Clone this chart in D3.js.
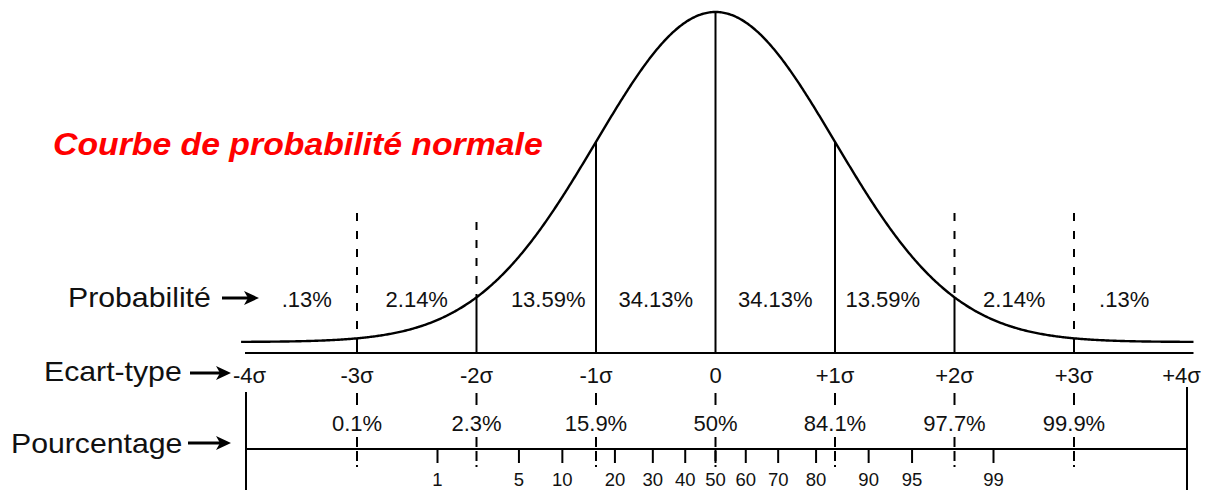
<!DOCTYPE html>
<html>
<head>
<meta charset="utf-8">
<script src="https://cdn.jsdelivr.net/npm/d3@7"></script>
<style>
  html, body { margin: 0; padding: 0; background: #fff; }
  svg { display: block; }
  text { font-family: "Liberation Sans", Arial, sans-serif; fill: #111; }
</style>
</head>
<body>
<svg id="chart" width="1207" height="490"></svg>
<script>
// Standard deviation marks along the z axis
const sigmaTicks  = [-4, -3, -2, -1, 0, 1, 2, 3, 4];
const sigmaLabels = ["-4σ", "-3σ", "-2σ", "-1σ", "0", "+1σ", "+2σ", "+3σ", "+4σ"];

// Probability mass in each one-sigma band
const bandLower  = [-4, -3, -2, -1, 0, 1, 2, 3];
const bandUpper  = [-3, -2, -1, 0, 1, 2, 3, 4];
const bandLabels = [".13%", "2.14%", "13.59%", "34.13%", "34.13%", "13.59%", "2.14%", ".13%"];

// Cumulative percentage reached at each sigma
const cumSigma  = [-3, -2, -1, 0, 1, 2, 3];
const cumLabels = ["0.1%", "2.3%", "15.9%", "50%", "84.1%", "97.7%", "99.9%"];

// Percentile ranks on the lower scale
const percentiles = [1, 5, 10, 20, 30, 40, 50, 60, 70, 80, 90, 95, 99];

// Sigma lines drawn solid up to the curve, and the ones continued dashed above it
const solidSigma  = [-3, -2, -1, 0, 1, 2, 3];
const dashedSigma = [-3, -2, 2, 3];

const svg = d3.select("#chart");

const x = d3.scaleLinear().domain([-3, 3]).range([357, 1074]);
const pdf = z => Math.exp(-z * z / 2) / Math.sqrt(2 * Math.PI);
const y = d3.scaleLinear().domain([0, pdf(0)]).range([342, 12]);

// inverse of the normal CDF (Acklam), to place percentile ranks on the z scale
function probit(p) {
  const a = [-3.969683028665376e+01, 2.209460984245205e+02, -2.759285104469687e+02, 1.383577518672690e+02, -3.066479806614716e+01, 2.506628277459239e+00];
  const b = [-5.447609879822406e+01, 1.615858368580409e+02, -1.556989798598866e+02, 6.680131188771972e+01, -1.328068155288572e+01];
  const c = [-7.784894002430293e-03, -3.223964580411365e-01, -2.400758277161838e+00, -2.549732753666818e+00, 4.374664141464968e+00, 2.938163982698783e+00];
  const d = [7.784695709041462e-03, 3.224671290700398e-01, 2.445134137142996e+00, 3.754408661907416e+00];
  const plow = 0.02425;
  let q, r;
  if (p < plow) {
    q = Math.sqrt(-2 * Math.log(p));
    return (((((c[0]*q+c[1])*q+c[2])*q+c[3])*q+c[4])*q+c[5]) / ((((d[0]*q+d[1])*q+d[2])*q+d[3])*q+1);
  } else if (p <= 1 - plow) {
    q = p - 0.5; r = q * q;
    return (((((a[0]*r+a[1])*r+a[2])*r+a[3])*r+a[4])*r+a[5])*q / (((((b[0]*r+b[1])*r+b[2])*r+b[3])*r+b[4])*r+1);
  }
  q = Math.sqrt(-2 * Math.log(1 - p));
  return -(((((c[0]*q+c[1])*q+c[2])*q+c[3])*q+c[4])*q+c[5]) / ((((d[0]*q+d[1])*q+d[2])*q+d[3])*q+1);
}

const axisY = 353;
const pctAxisY = 449;
const stretch = 1.09;
// the outer frame of the percentile scale sits slightly inside ±4σ
const frameLeft = x(-4) + 8.5;
const frameRight = x(4) - 6.5;

// ---- upper part: bell curve ----
const curvePts = d3.range(-3.97, 4.005, 0.01);
svg.append("path")
  .datum(curvePts)
  .attr("d", d3.line().x(z => x(z)).y(z => y(pdf(z))))
  .attr("fill", "none").attr("stroke", "#000").attr("stroke-width", 2.4);

// z axis line
svg.append("line")
  .attr("x1", frameLeft - 1).attr("x2", x(4)).attr("y1", axisY).attr("y2", axisY)
  .attr("stroke", "#000").attr("stroke-width", 2);

// solid sigma lines, axis to curve
svg.selectAll(".sigSolid").data(solidSigma).join("line")
  .attr("x1", d => x(d)).attr("x2", d => x(d))
  .attr("y1", axisY).attr("y2", d => y(pdf(d)))
  .attr("stroke", "#000").attr("stroke-width", 2);

// dashed continuation above the curve
svg.selectAll(".sigDash").data(dashedSigma).join("line")
  .attr("x1", d => x(d)).attr("x2", d => x(d))
  .attr("y1", d => d === -2 ? 222 : 213).attr("y2", d => y(pdf(d)))
  .attr("stroke", "#000").attr("stroke-width", 2)
  .attr("stroke-dasharray", "8,10");

// band probabilities: centred in their band, nudged inward where the band
// borders a curve crossing or the outer tail
function bandLabelX(i) {
  const mid = (bandLower[i] + bandUpper[i]) / 2;
  const a = Math.abs(mid);
  const nudge = a === 1.5 ? 0.1 : a === 3.5 ? 0.08 : 0;
  return x(mid - Math.sign(mid) * nudge);
}
svg.selectAll(".band").data(bandLabels).join("text")
  .attr("x", (d, i) => bandLabelX(i))
  .attr("y", 299).attr("dy", "0.35em")
  .attr("text-anchor", "middle").attr("font-size", 22)
  .text(d => d);

// sigma labels
svg.selectAll(".sigLab").data(sigmaLabels).join("text")
  .attr("x", (d, i) => x(sigmaTicks[i]) + (i === 0 ? 12 : i === 8 ? -12 : 0))
  .attr("y", 375).attr("dy", "0.35em")
  .attr("text-anchor", "middle").attr("font-size", 22)
  .text(d => d);

// ---- lower part: percentile scale ----
svg.selectAll(".frame").data([frameLeft, frameRight]).join("line")
  .attr("x1", d => d).attr("x2", d => d)
  .attr("y1", (d, i) => i === 0 ? 392 : 387).attr("y2", 490)
  .attr("stroke", "#000").attr("stroke-width", 2);

svg.append("line")
  .attr("x1", frameLeft).attr("x2", frameRight).attr("y1", pctAxisY).attr("y2", pctAxisY)
  .attr("stroke", "#000").attr("stroke-width", 2);

// sigma ticks on the percentile scale (above and below the cumulative label)
svg.selectAll(".cumTopTick").data(cumSigma).join("line")
  .attr("x1", d => x(d)).attr("x2", d => x(d))
  .attr("y1", 393).attr("y2", 405)
  .attr("stroke", "#000").attr("stroke-width", 2);
svg.selectAll(".cumLowTick").data(cumSigma).join("line")
  .attr("x1", d => x(d)).attr("x2", d => x(d))
  .attr("y1", 437).attr("y2", 467)
  .attr("stroke", "#000").attr("stroke-width", 2)
  .attr("stroke-dasharray", "10,4");

svg.selectAll(".cumLab").data(cumLabels).join("text")
  .attr("x", (d, i) => x(cumSigma[i]))
  .attr("y", 423).attr("dy", "0.35em")
  .attr("text-anchor", "middle").attr("font-size", 22)
  .text(d => d);

// percentile ticks and labels
svg.selectAll(".pTick").data(percentiles).join("line")
  .attr("x1", d => x(probit(d / 100))).attr("x2", d => x(probit(d / 100)))
  .attr("y1", pctAxisY).attr("y2", 463)
  .attr("stroke", "#000").attr("stroke-width", 2);
svg.selectAll(".pLab").data(percentiles).join("text")
  .attr("x", d => x(probit(d / 100)))
  .attr("y", 480).attr("dy", "0.35em")
  .attr("text-anchor", "middle").attr("font-size", 18.5)
  .text(d => d);

// ---- row captions with arrows ----
const captions = [
  { text: "Probabilité", x: 68, y: 307, ax1: 222, ax2: 259, ay: 298 },
  { text: "Ecart-type",  x: 44, y: 381, ax1: 190, ax2: 231, ay: 373 },
  { text: "Pourcentage", x: 11, y: 453, ax1: 188, ax2: 231, ay: 443 }
];
captions.forEach(c => {
  svg.append("text")
    .attr("transform", `translate(${c.x},${c.y}) scale(1.08,1)`)
    .attr("font-size", 28)
    .text(c.text);
  svg.append("line")
    .attr("x1", c.ax1).attr("x2", c.ax2 - 10).attr("y1", c.ay).attr("y2", c.ay)
    .attr("stroke", "#000").attr("stroke-width", 3);
  svg.append("path")
    .attr("d", `M${c.ax2},${c.ay} L${c.ax2 - 15},${c.ay - 7} L${c.ax2 - 11},${c.ay} L${c.ax2 - 15},${c.ay + 7} Z`)
    .attr("fill", "#000");
});

// ---- title ----
svg.append("text")
  .attr("transform", `translate(53,155) scale(${stretch},1)`)
  .attr("font-size", 31).attr("font-weight", "bold").attr("font-style", "italic")
  .style("fill", "#ff0000")
  .text("Courbe de probabilité normale");
</script>
</body>
</html>
